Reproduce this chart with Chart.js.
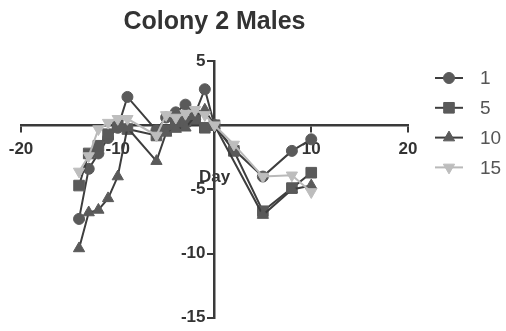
<!DOCTYPE html>
<html>
<head>
<meta charset="utf-8">
<script src="https://cdn.jsdelivr.net/npm/chart.js@4/dist/chart.umd.min.js"></script>
<style>
  html, body { margin: 0; padding: 0; background: #ffffff; }
  #wrap { width: 506px; height: 331px; }
</style>
</head>
<body>
<div id="wrap"><canvas id="chart" width="506" height="331"></canvas></div>
<script>
// Sampling days relative to the reference day
const days = [-14, -13, -12, -11, -10, -9, -6, -5, -4, -3, -2, -1, 0, 2, 5, 8, 10];

// Measured change per group (null = not sampled that day)
const group1  = [-7.3, -3.4, -2.2, -1.0, -0.2, 2.2, -0.4, 0.6, 1.0, 1.6, 0.9, 2.8, 0, -1.9, -4.0, -2.0, -1.1];
const group5  = [-4.7, -2.2, -1.6, -0.7, 0.0, -0.3, -0.8, -0.4, 0.1, 0.3, 0.5, -0.2, 0, -2.0, -6.7, -4.9, -3.7];
const group10 = [-9.6, -6.8, -6.6, -5.7, -4.0, -0.2, -2.8, -0.6, -0.3, -0.2, 0.7, 1.2, 0, null, -7.0, -5.0, -4.7];
const group15 = [-3.6, -2.4, -0.3, 0.2, 0.5, 0.5, -0.8, 0.8, 0.6, 0.9, 1.2, 0.8, 0, -1.5, -4.0, -3.9, -5.2];

const seriesNames = ['1', '5', '10', '15'];
const xTickValues = [-20, -10, 0, 10, 20];
const yTickValues = [-15, -10, -5, 0, 5];

const FONT = "'Liberation Sans', Arial, sans-serif";
const AXIS = '#3a3a3a';
const TICK_LEN = 6;
const TICK_PAD = 3;

function toPoints(values) {
  return values.map((v, i) => ({ x: days[i], y: v }));
}

const styles = [
  { line: '#3e3e3e', fill: '#5a5a5a', pointStyle: 'circle',   radius: 5.5, rotation: 0 },
  { line: '#3e3e3e', fill: '#5a5a5a', pointStyle: 'rect',     radius: 7.5, rotation: 0 },
  { line: '#3e3e3e', fill: '#5a5a5a', pointStyle: 'triangle', radius: 6.5, rotation: 0 },
  { line: '#b9b9b9', fill: '#bdbdbd', pointStyle: 'triangle', radius: 6.5, rotation: 180 }
];

const values = [group1, group5, group10, group15];

const datasets = values.map((vals, i) => ({
  label: seriesNames[i],
  data: toPoints(vals),
  borderColor: styles[i].line,
  borderWidth: 2,
  pointStyle: styles[i].pointStyle,
  pointRotation: styles[i].rotation,
  pointRadius: styles[i].radius,
  pointBackgroundColor: styles[i].fill,
  pointBorderColor: styles[i].fill,
  pointBorderWidth: 1,
  spanGaps: true,
  tension: 0
})).reverse();

// The y axis sits at x = 0; move its labels left of the tick marks
const yLabelGap = {
  id: 'yLabelGap',
  beforeDraw(chart) {
    const scale = chart.scales.y;
    const items = scale.getLabelItems();
    if (!items._shifted) {
      items.forEach(it => { it.options.translation[0] -= (TICK_LEN + TICK_PAD); });
      items._shifted = true;
    }
  }
};

// Legend on the right: short line with the series marker, then its name
const sideLegend = {
  id: 'sideLegend',
  afterDraw(chart) {
    const ctx = chart.ctx;
    const area = chart.chartArea;
    const ordered = chart.data.datasets.slice().reverse();
    ordered.forEach((ds, i) => {
      const y = 78 + i * 29.8;
      const x0 = area.right + 27;
      const x1 = area.right + 55;
      ctx.save();
      ctx.strokeStyle = ds.borderColor;
      ctx.lineWidth = 2;
      ctx.beginPath();
      ctx.moveTo(x0, y);
      ctx.lineTo(x1, y);
      ctx.stroke();
      ctx.fillStyle = ds.pointBackgroundColor;
      ctx.strokeStyle = ds.pointBorderColor;
      ctx.lineWidth = 1;
      Chart.helpers.drawPoint(ctx, {
        pointStyle: ds.pointStyle,
        rotation: ds.pointRotation,
        radius: ds.pointRadius,
        borderWidth: 1
      }, (x0 + x1) / 2, y);
      ctx.fillStyle = '#555555';
      ctx.font = '19px ' + FONT;
      ctx.textAlign = 'left';
      ctx.textBaseline = 'middle';
      ctx.fillText(ds.label, area.right + 72, y + 1);
      ctx.restore();
    });
  }
};

new Chart(document.getElementById('chart'), {
  type: 'line',
  data: { datasets },
  plugins: [yLabelGap, sideLegend],
  options: {
    responsive: false,
    devicePixelRatio: 1,
    animation: false,
    layout: { padding: { left: 21, right: 98, top: 0, bottom: 10 } },
    plugins: {
      legend: { display: false },
      tooltip: { enabled: false },
      title: {
        display: true,
        text: 'Colony 2 Males',
        fullSize: false,
        color: '#333333',
        font: { family: FONT, size: 25, weight: 'bold' },
        padding: { top: 7, bottom: 24 }
      }
    },
    scales: {
      x: {
        type: 'linear',
        min: -20,
        max: 20,
        position: { y: 0 },
        afterBuildTicks(scale) {
          scale.ticks = xTickValues.map(v => ({ value: v }));
        },
        ticks: {
          color: '#333333',
          font: { family: FONT, size: 17, weight: 'bold' },
          padding: 8,
          maxRotation: 0,
          autoSkip: false,
          callback: v => (v === 0 ? '' : String(v))
        },
        grid: { drawOnChartArea: false, drawTicks: true, tickLength: TICK_LEN, color: AXIS, lineWidth: 2 },
        border: { display: true, color: AXIS, width: 2.5 },
        title: {
          display: true,
          text: 'Day',
          color: '#333333',
          font: { family: FONT, size: 17, weight: 'bold' },
          padding: { top: 0, bottom: 0 }
        }
      },
      y: {
        type: 'linear',
        min: -15,
        max: 5,
        position: { x: 0 },
        afterBuildTicks(scale) {
          scale.ticks = yTickValues.map(v => ({ value: v }));
        },
        ticks: {
          color: '#333333',
          font: { family: FONT, size: 17, weight: 'bold' },
          padding: TICK_PAD,
          autoSkip: false,
          callback: v => (v === 0 ? '' : String(v))
        },
        grid: { drawOnChartArea: false, drawTicks: true, tickLength: TICK_LEN, color: AXIS, lineWidth: 2 },
        border: { display: true, color: AXIS, width: 2.5 }
      }
    }
  }
});
</script>
</body>
</html>
